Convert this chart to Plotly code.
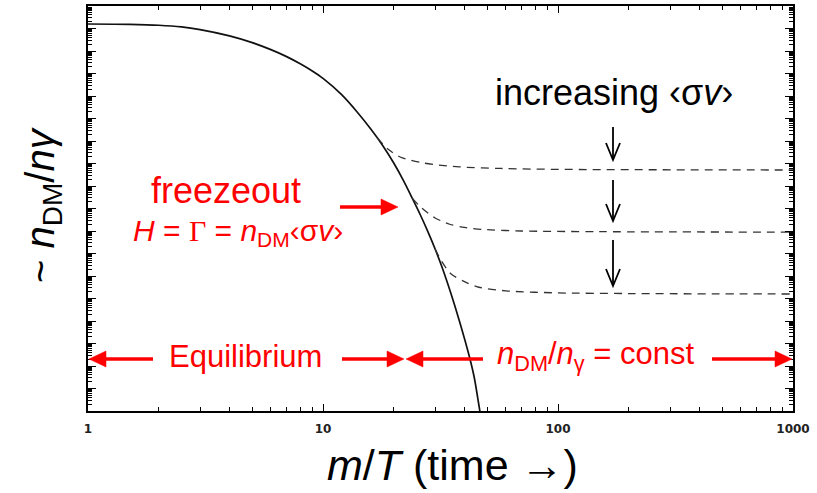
import plotly.graph_objects as go

# ---------------- data ----------------
# m/T values and log10(n_DM/n_gamma) for the equilibrium (solid) curve
mt_equilibrium = [1, 1.5, 2, 2.5, 3, 4, 5, 6, 7, 8, 9, 10, 12, 14, 16, 18, 20, 22, 24, 26, 28, 30, 32, 35,
                  38, 42, 44, 46, 48]
logn_equilibrium = [-2.80, -2.815, -2.855, -2.93, -3.05, -3.33, -3.63, -3.94, -4.25, -4.57, -4.89, -5.22,
                    -5.94, -6.72, -7.48, -8.22, -8.98, -9.76, -10.55, -11.30, -12.05, -12.80, -13.57,
                    -14.77, -15.98, -17.60, -18.50, -19.70, -20.90]

# freeze-out (dashed) curves, from small to large <sigma v>
mt_freeze1 = [17, 19, 21.3, 25.9, 29.5, 38, 57, 100, 1000]
logn_freeze1 = [-7.85, -8.38, -8.71, -8.95, -9.04, -9.15, -9.22, -9.26, -9.29]
mt_freeze2 = [24, 26, 27.7, 30, 34.6, 40, 47.7, 70, 150, 1000]
logn_freeze2 = [-10.55, -10.93, -11.17, -11.42, -11.70, -11.84, -11.93, -12.00, -12.03, -12.05]
mt_freeze3 = [30, 32, 35, 40, 46, 60, 100, 200, 1000]
logn_freeze3 = [-12.80, -13.35, -13.90, -14.25, -14.50, -14.66, -14.75, -14.78, -14.80]

x_tickvals = [1, 10, 100, 1000]
x_ticktext = ["1", "10", "100", "1000"]

# ---------------- figure ----------------
W, H = 817, 493
ML, MR, MT, MB = 88, 24, 6, 82
PW, PH = W - ML - MR, H - MT - MB


def px(x):
    return (x - ML) / PW


def py(y):
    return (H - MB - y) / PH


RED = "#ff0000"
SANS = "Liberation Sans, Arial, sans-serif"

fig = go.Figure()
fig.add_trace(go.Scatter(x=mt_equilibrium, y=[10 ** v for v in logn_equilibrium], mode="lines",
                         line=dict(color="#111111", width=1.7, shape="spline", smoothing=0.8),
                         showlegend=False, hoverinfo="skip"))
for xs, ys in [(mt_freeze1, logn_freeze1), (mt_freeze2, logn_freeze2), (mt_freeze3, logn_freeze3)]:
    fig.add_trace(go.Scatter(x=xs, y=[10 ** v for v in ys], mode="lines",
                             line=dict(color="#333333", width=1.3, dash="8px,6px", shape="spline", smoothing=0.8),
                             showlegend=False, hoverinfo="skip"))

shapes = []


def red_arrow(x_tail, x_tip, y, head=17, half=8, width=3.5):
    d = 1 if x_tip > x_tail else -1
    base = x_tip - d * head
    shapes.append(dict(type="line", xref="paper", yref="paper", x0=px(x_tail), x1=px(base + d * 2),
                       y0=py(y), y1=py(y), line=dict(color=RED, width=width)))
    shapes.append(dict(type="path", xref="paper", yref="paper",
                       path=f"M {px(base)} {py(y - half)} L {px(x_tip)} {py(y)} L {px(base)} {py(y + half)} Z",
                       fillcolor=RED, line=dict(color=RED, width=0.5)))


red_arrow(340, 398, 207)
red_arrow(153, 89, 359)
red_arrow(342, 404, 359)
red_arrow(483, 406, 359)
red_arrow(712, 792, 359)

# black "increasing <sigma v>" arrows, placed at m/T ~ 171
arrow_x = 613
for y0, y1 in [(127, 160), (180, 221), (240, 286)]:
    shapes.append(dict(type="line", xref="paper", yref="paper", x0=px(arrow_x), x1=px(arrow_x),
                       y0=py(y0), y1=py(y1), line=dict(color="black", width=1.8)))
    shapes.append(dict(type="path", xref="paper", yref="paper",
                       path=f"M {px(arrow_x - 7)} {py(y1 - 17)} L {px(arrow_x)} {py(y1)} L {px(arrow_x + 7)} {py(y1 - 17)}",
                       line=dict(color="black", width=1.8)))

annotations = []


def text(t, cx, baseline, size, color=RED, family=SANS, angle=0):
    annotations.append(dict(text=t, x=px(cx), y=py(baseline - 0.34 * size), xref="paper", yref="paper",
                            xanchor="center", yanchor="middle", showarrow=False, textangle=angle,
                            font=dict(size=size, color=color, family=family)))


text("freezeout", 226, 203, 36)
text("<i>H</i> = <span style='font-family:Liberation Serif, Times New Roman, serif'>Γ</span> = "
     "<i>n</i><sub>DM</sub>‹σ<i>v</i>›", 238, 243, 30)
text("Equilibrium", 245, 367, 31)
text("<i>n</i><sub>DM</sub>/<i>n</i><sub>γ</sub> = const", 596, 367, 31)
text("increasing ‹σ<i>v</i>›", 614, 105, 36, color="black")
text("<i>m</i>/<i>T</i> (time →)", 452, 480, 43, color="black")
annotations.append(dict(text="~ <i>n</i><sub>DM</sub>/<i>nγ</i>", x=px(43), y=py(205), xref="paper", yref="paper",
                        xanchor="center", yanchor="middle", showarrow=False, textangle=-90,
                        font=dict(size=40, color="black", family=SANS)))

axis_common = dict(showline=True, linecolor="black", linewidth=2, mirror="ticks", showgrid=False,
                   zeroline=False, ticks="inside", tickcolor="black", tickwidth=1.2, automargin=False)

fig.update_layout(
    width=W, height=H, margin=dict(l=ML, r=MR, t=MT, b=MB, autoexpand=False),
    paper_bgcolor="white", plot_bgcolor="white",
    shapes=shapes, annotations=annotations,
    xaxis=dict(type="log", range=[0, 3], tickvals=x_tickvals, ticktext=x_ticktext, ticklen=7,
               tickfont=dict(family="DejaVu Sans", size=12, color="#222222", weight="bold"),
               ticklabelstandoff=6,
               minor=dict(ticks="inside", ticklen=4, dtick="D1", tickcolor="black", tickwidth=1, showgrid=False),
               **axis_common),
    yaxis=dict(type="log", range=[-20, -2], dtick=1, ticklen=8, showticklabels=False,
               minor=dict(ticks="inside", ticklen=4, dtick="D1", tickcolor="black", tickwidth=1, showgrid=False),
               **axis_common),
)

fig.write_html("out.html", config={"displayModeBar": False},
               post_script="document.body.style.margin='0';")
